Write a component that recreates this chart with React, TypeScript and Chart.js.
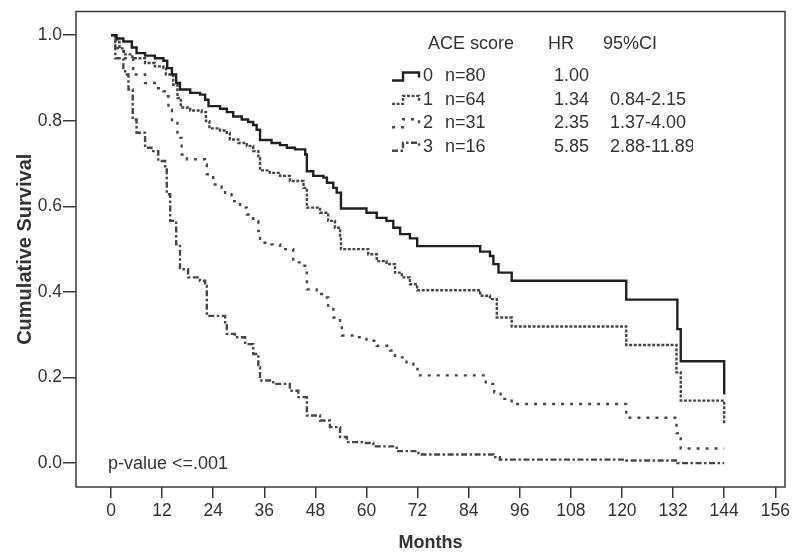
import React, { useEffect, useRef } from 'react';
import { Chart, registerables } from 'chart.js';

Chart.register(...registerables);

// ---- data (months, cumulative survival) ----
const xTicks = [0, 12, 24, 36, 48, 60, 72, 84, 96, 108, 120, 132, 144, 156];
const yTicks = [0, 0.2, 0.4, 0.6, 0.8, 1.0];

const ace0: [number, number][] = [
  [0, 1.0], [1.3, 0.992], [2.9, 0.985], [4.9, 0.971], [6.0, 0.958], [8.0, 0.952], [10.3, 0.946],
  [12.3, 0.94], [13.2, 0.923], [14.3, 0.908], [15.3, 0.888], [16.2, 0.873], [18.6, 0.865],
  [20.9, 0.861], [22.1, 0.849], [22.9, 0.834], [25.6, 0.828], [27.2, 0.82], [28.7, 0.81],
  [30.7, 0.803], [32.2, 0.797], [33.4, 0.79], [34.2, 0.779], [35.0, 0.755], [37.7, 0.748],
  [39.7, 0.743], [41.3, 0.737], [43.2, 0.733], [45.6, 0.721], [46.0, 0.682], [47.5, 0.671],
  [49.9, 0.667], [50.7, 0.655], [52.2, 0.643], [53.0, 0.632], [54.0, 0.595], [60.0, 0.585],
  [62.4, 0.573], [64.7, 0.566], [66.3, 0.55], [67.9, 0.535], [70.2, 0.525], [71.9, 0.507],
  [86.7, 0.494], [89.0, 0.484], [89.8, 0.465], [91.0, 0.445], [94.1, 0.426], [121.0, 0.382],
  [133.0, 0.313], [133.8, 0.238], [144.0, 0.16],
];

const ace1: [number, number][] = [
  [0, 1.0], [1.0, 0.984], [2.0, 0.969], [3.0, 0.955], [5.0, 0.946], [8.0, 0.935], [10.3, 0.927],
  [12.3, 0.923], [12.9, 0.908], [14.6, 0.884], [15.6, 0.853], [16.4, 0.831], [18.6, 0.824],
  [21.3, 0.82], [22.3, 0.799], [23.1, 0.782], [25.6, 0.777], [27.2, 0.772], [27.9, 0.756],
  [29.9, 0.748], [31.9, 0.741], [33.4, 0.729], [34.6, 0.713], [35.0, 0.684], [37.3, 0.678],
  [39.7, 0.671], [42.0, 0.659], [45.2, 0.643], [46.0, 0.597], [49.1, 0.585], [51.0, 0.566],
  [52.6, 0.55], [53.8, 0.527], [54.0, 0.5], [60.4, 0.488], [62.4, 0.472], [64.7, 0.465],
  [66.7, 0.445], [68.3, 0.434], [70.2, 0.418], [71.9, 0.404], [86.7, 0.391], [89.0, 0.383],
  [90.6, 0.34], [94.1, 0.319], [121.0, 0.276], [132.8, 0.212], [133.8, 0.146], [144.0, 0.092],
];

const ace2: [number, number][] = [
  [0, 1.0], [1.5, 0.97], [2.9, 0.946], [5.2, 0.908], [8.0, 0.888], [10.3, 0.876], [12.3, 0.869],
  [13.1, 0.857], [13.5, 0.826], [14.3, 0.795], [15.6, 0.76], [16.6, 0.721], [17.8, 0.71],
  [22.1, 0.698], [22.5, 0.675], [24.0, 0.651], [26.0, 0.643], [26.8, 0.628], [28.3, 0.612],
  [30.3, 0.597], [31.9, 0.581], [33.4, 0.566], [34.6, 0.542], [35.0, 0.515], [37.7, 0.511],
  [39.7, 0.503], [40.5, 0.5], [42.8, 0.469], [44.8, 0.461], [45.6, 0.445], [46.0, 0.406],
  [48.3, 0.395], [49.9, 0.387], [51.0, 0.364], [52.2, 0.34], [53.8, 0.317], [54.2, 0.298],
  [57.7, 0.294], [60.0, 0.286], [62.4, 0.274], [65.5, 0.263], [66.7, 0.247], [69.4, 0.232],
  [71.0, 0.22], [72.0, 0.205], [88.0, 0.185], [90.0, 0.165], [91.5, 0.15], [94.1, 0.138],
  [121.0, 0.106], [132.8, 0.07], [133.8, 0.034], [144.0, 0.034],
];

const ace3: [number, number][] = [
  [0, 1.0], [1.0, 0.946], [2.9, 0.923], [3.3, 0.908], [4.1, 0.873], [5.1, 0.803], [6.0, 0.772],
  [8.0, 0.737], [9.5, 0.729], [11.1, 0.706], [12.7, 0.686], [13.1, 0.628], [13.9, 0.566],
  [15.3, 0.511], [16.2, 0.453], [18.1, 0.434], [20.9, 0.426], [22.1, 0.414], [22.5, 0.344],
  [26.8, 0.329], [27.2, 0.302], [29.1, 0.294], [31.5, 0.278], [33.4, 0.255], [34.6, 0.224],
  [35.0, 0.193], [38.1, 0.185], [42.0, 0.169], [44.0, 0.154], [46.0, 0.111], [49.1, 0.0995],
  [51.4, 0.084], [53.8, 0.061], [55.4, 0.049], [59.3, 0.047], [61.6, 0.039], [67.1, 0.028],
  [72.2, 0.02], [89.8, 0.014], [91.3, 0.008], [121.0, 0.006], [133.0, 0.0], [144.0, 0.0],
];

const groupLabels = ['0', '1', '2', '3'];
const groupN = ['n=80', 'n=64', 'n=31', 'n=16'];
const hrValues = ['1.00', '1.34', '2.35', '5.85'];
const ciValues = ['', '0.84-2.15', '1.37-4.00', '2.88-11.89'];

const FONT = '"Liberation Sans", Arial, Helvetica, sans-serif';
const lineColors = ['#202020', '#474747', '#474747', '#474747'];
const lineDashes: number[][] = [[], [3, 1.6], [3, 6], [6, 2.5, 2.5, 2.5]];
const lineWidth = 2.4;

const overlayPlugin = {
  id: 'overlay',
  afterDraw(chart: any) {
    const { ctx, chartArea: a } = chart;
    ctx.save();
    // plot frame
    ctx.strokeStyle = '#3a3a3a';
    ctx.lineWidth = 1.5;
    ctx.setLineDash([]);
    ctx.strokeRect(a.left, a.top, a.right - a.left, a.bottom - a.top);

    ctx.font = `18px ${FONT}`;
    ctx.fillStyle = '#333';
    ctx.textBaseline = 'middle';
    ctx.textAlign = 'left';
    const L = a.left;
    const T = a.top;
    ctx.fillText('ACE score', L + 352, T + 33);
    ctx.fillText('HR', L + 472, T + 33);
    ctx.fillText('95%CI', L + 527, T + 33);

    for (let i = 0; i < 4; i++) {
      const y = T + 65 + i * 23.4;
      // sample step symbol
      ctx.save();
      ctx.strokeStyle = lineColors[i];
      ctx.lineWidth = lineWidth;
      ctx.setLineDash(lineDashes[i]);
      ctx.beginPath();
      ctx.moveTo(L + 316, y + 4);
      ctx.lineTo(L + 327, y + 4);
      ctx.lineTo(L + 327, y - 4);
      ctx.lineTo(L + 343, y - 4);
      ctx.lineTo(L + 343, y + 1);
      ctx.stroke();
      ctx.restore();

      ctx.fillText(groupLabels[i], L + 347, y);
      ctx.fillText(groupN[i], L + 369, y);
      ctx.fillText(hrValues[i], L + 478, y);
      if (ciValues[i]) {
        ctx.save();
        ctx.beginPath();
        ctx.rect(0, 0, L + 617, 560);
        ctx.clip();
        ctx.fillText(ciValues[i], L + 534, y);
        ctx.restore();
      }
    }

    ctx.fillText('p-value <=.001', L + 32, T + 453);
    ctx.restore();
  },
};

export default function App() {
  const ref = useRef<HTMLCanvasElement | null>(null);

  useEffect(() => {
    if (!ref.current) return;
    const series = [ace0, ace1, ace2, ace3];
    const chart = new Chart(ref.current, {
      type: 'line',
      data: {
        datasets: series.map((s, i) => ({
          label: 'ACE ' + groupLabels[i],
          data: s.map(([x, y]) => ({ x, y })),
          stepped: 'before' as const,
          borderColor: lineColors[i],
          borderWidth: lineWidth,
          borderDash: lineDashes[i],
          pointRadius: 0,
          fill: false,
          tension: 0,
        })),
      },
      options: {
        animation: false,
        responsive: false,
        layout: { padding: { top: 10, right: 15, left: 0, bottom: 0 } },
        plugins: {
          legend: { display: false },
          tooltip: { enabled: false },
        },
        scales: {
          x: {
            type: 'linear',
            min: -8.22,
            max: 158.28,
            afterBuildTicks: (s: any) => {
              s.ticks = xTicks.map((v) => ({ value: v }));
            },
            afterFit: (s: any) => {
              s.height = 73;
            },
            grid: {
              drawOnChartArea: false,
              drawTicks: true,
              tickLength: 11,
              color: '#3a3a3a',
              lineWidth: 1.5,
            },
            border: { display: false },
            ticks: {
              font: { size: 17.5, family: FONT },
              color: '#333',
              padding: 3,
              maxRotation: 0,
              autoSkip: false,
            },
            title: {
              display: true,
              text: 'Months',
              font: { size: 18, weight: 'bold', family: FONT },
              color: '#333',
              padding: { top: 0, bottom: 6 },
            },
          },
          y: {
            type: 'linear',
            min: -0.0559,
            max: 1.0552,
            afterBuildTicks: (s: any) => {
              s.ticks = yTicks.map((v) => ({ value: v }));
            },
            afterFit: (s: any) => {
              s.width = 76;
            },
            grid: {
              drawOnChartArea: false,
              drawTicks: true,
              tickLength: 13,
              color: '#3a3a3a',
              lineWidth: 1.5,
            },
            border: { display: false },
            ticks: {
              font: { size: 17.5, family: FONT },
              color: '#333',
              padding: 1,
              callback: (v: any) => Number(v).toFixed(1),
            },
            title: {
              display: true,
              text: 'Cumulative Survival',
              font: { size: 20, weight: 'bold', family: FONT },
              color: '#333',
              padding: { top: 13, bottom: 0 },
            },
          },
        },
      },
      plugins: [overlayPlugin],
    });
    return () => chart.destroy();
  }, []);

  return (
    <div style={{ position: 'absolute', left: 0, top: 0, width: 800, height: 560, background: '#fff' }}>
      <canvas ref={ref} width={800} height={560} style={{ display: 'block' }} />
    </div>
  );
}
